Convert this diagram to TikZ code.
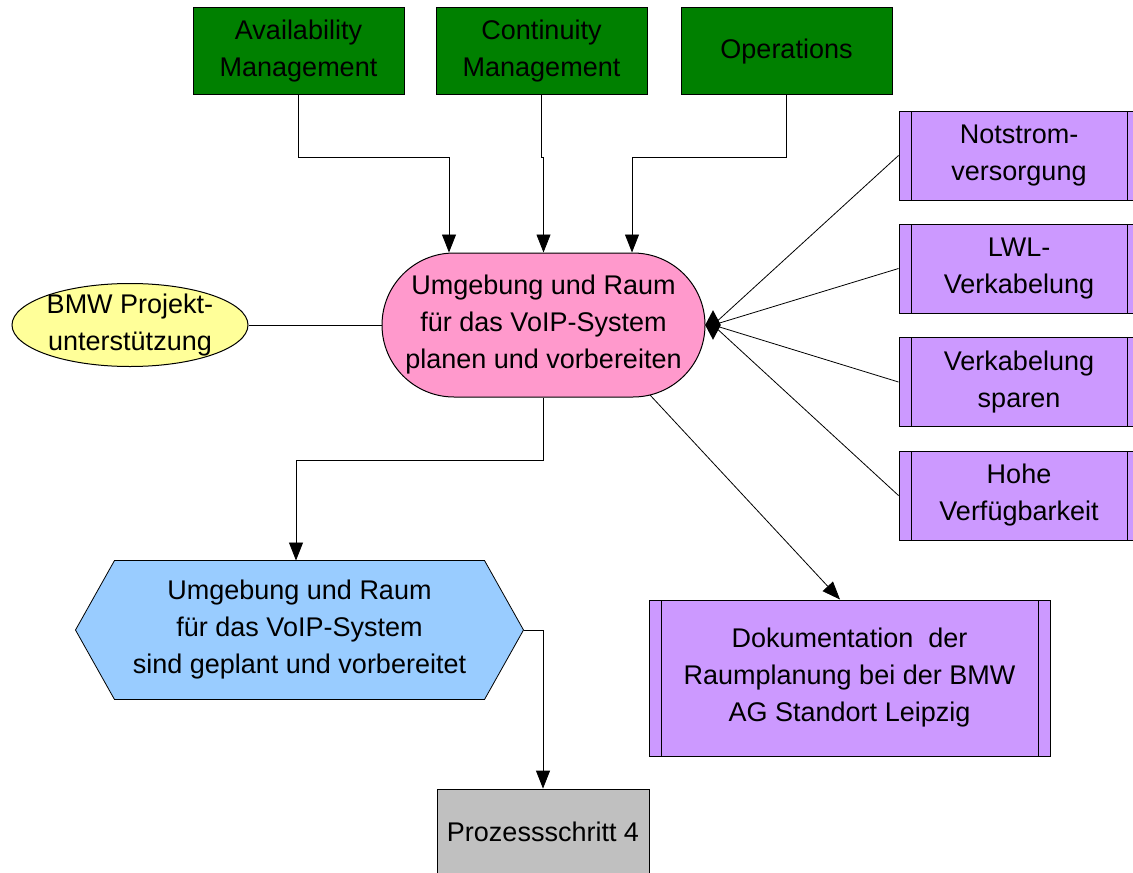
\documentclass[tikz,border=0pt]{standalone}
\usepackage{fontspec}
\setmainfont{Liberation Sans}
\usetikzlibrary{shapes.geometric,arrows.meta,calc,backgrounds}
\definecolor{grn}{HTML}{008000}
\definecolor{pinkc}{HTML}{FF99CC}
\definecolor{yelc}{HTML}{FFFF99}
\definecolor{purp}{HTML}{CC99FF}
\definecolor{bluec}{HTML}{99CCFF}
\definecolor{grayc}{HTML}{C0C0C0}
\begin{document}
\begin{tikzpicture}[x=0.5pt,y=-0.5pt,
  font=\fontsize{13.5}{18.5}\selectfont, line width=0.5pt,
  box/.style={draw, align=center, inner sep=0pt},
  greenbox/.style={box, fill=grn, minimum width=105.5pt, minimum height=43.5pt},
  dblbox/.style={box, fill=purp,
    path picture={
      \draw ([xshift=6pt]path picture bounding box.north west) -- ([xshift=6pt]path picture bounding box.south west);
      \draw ([xshift=-6pt]path picture bounding box.north east) -- ([xshift=-6pt]path picture bounding box.south east);}},
  smallpurp/.style={dblbox, minimum width=120pt, minimum height=44.5pt},
  arr/.style={-{Triangle[width=7pt,length=9pt]}}]
\useasboundingbox (0,0) rectangle (1133,872);

% top green boxes
\node[greenbox] (av) at (298.5,51.5) {Availability\\Management};
\node[greenbox] (co) at (541.5,51.5) {Continuity\\Management};
\node[greenbox] (op) at (786.5,51.5) {Operations};

% central process
\node[box, fill=pinkc, rounded corners=36pt, minimum width=161.5pt, minimum height=72pt] (pink) at (543.5,325)
  {Umgebung und Raum\\für das VoIP-System\\planen und vorbereiten};

% yellow ellipse
\node[draw, ellipse, fill=yelc, inner sep=0pt, minimum width=118pt, minimum height=41.5pt] (yel) at (130,325) {};
\node[align=center, inner sep=0pt] (yelt) at (yel) {BMW Projekt-\\unterstützung};

% purple boxes on the right
\node[smallpurp] (n1) at (1019,155.5) {Notstrom-\\versorgung};
\node[smallpurp] (n2) at (1019,268.5) {LWL-\\Verkabelung};
\node[smallpurp] (n3) at (1019,382) {Verkabelung\\sparen};
\node[smallpurp] (n4) at (1019,495.5) {Hohe\\Verfügbarkeit};

% documentation box
\node[dblbox, minimum width=200.5pt, minimum height=78pt] (doc) at (849.5,678)
  {Dokumentation\ \ der\\Raumplanung bei der BMW\\AG Standort Leipzig};

% hexagon event
\node[align=center, inner sep=0pt, minimum width=223.5pt, minimum height=69pt] (hex) at (299.5,630)
  {Umgebung und Raum\\für das VoIP-System\\sind geplant und vorbereitet};
\begin{pgfonlayer}{background}
\draw[fill=bluec] (hex.west) -- ($(hex.north west)+(39,0)$) -- ($(hex.north east)+(-39,0)$)
  -- (hex.east) -- ($(hex.south east)+(-39,0)$) -- ($(hex.south west)+(39,0)$) -- cycle;
\end{pgfonlayer}

% process step
\node[box, fill=grayc, minimum width=106pt, minimum height=42.5pt] (proz) at (543,831.5) {Prozessschritt 4};

% connectors from top
\draw[arr] (av.south) -- ++(0,62) -| ($(pink.north)+(-94.5,0)$);
\draw[arr] (co.south) -- ++(0,62) -| (pink.north);
\draw[arr] (op.south) -- ++(0,62) -| ($(pink.north)+(88.5,0)$);

% ellipse link
\draw (yel.east) -- (pink.west);

% diamond collector
\node[diamond, fill=black, inner sep=0pt, minimum width=8pt, minimum height=15pt] (dm) at (713,325) {};
\foreach \n in {n1,n2,n3,n4} \draw (\n.west) -- (dm.center);

% to documentation
\coordinate (pk) at (650,395);
\draw[arr] (pk) -- ($(doc.north)+(-9.5,0)$);

% to hexagon and process step
\draw[arr] (pink.south) -- ++(0,63) -| ($(hex.north)+(-3.5,0)$);
\draw[arr] (hex.east) -| (proz.north);
\end{tikzpicture}
\end{document}
